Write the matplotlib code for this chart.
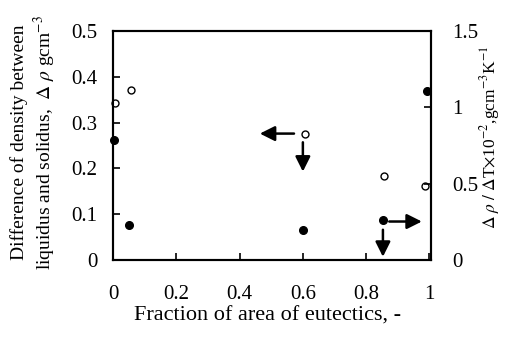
import matplotlib
matplotlib.use('Agg')
import matplotlib.pyplot as plt

plt.rcParams['font.family'] = ['Liberation Serif', 'DejaVu Serif']
plt.rcParams['mathtext.fontset'] = 'stix'

# fraction of area of eutectics
frac_open = [0.005, 0.057, 0.607, 0.855, 0.986]
# difference of density, left axis (g/cm3)
drho = [0.343, 0.371, 0.275, 0.183, 0.161]

frac_filled = [0.003, 0.05, 0.60, 0.853, 0.993]
# drho/dT x 1e-2, right axis
drho_dt = [0.783, 0.226, 0.195, 0.259, 1.107]

left_ticks = [0, 0.1, 0.2, 0.3, 0.4, 0.5]
left_labels = ['0', '0.1', '0.2', '0.3', '0.4', '0.5']
right_ticks = [0, 0.5, 1, 1.5]
right_labels = ['0', '0.5', '1', '1.5']
x_ticks = [0, 0.2, 0.4, 0.6, 0.8, 1]
x_labels = ['0', '0.2', '0.4', '0.6', '0.8', '1']

fig = plt.figure(figsize=(5.05, 3.38), dpi=100)
ax = fig.add_axes([0.2238, 0.2308, 0.6297, 0.6775])
ax2 = ax.twinx()

ax.plot(frac_open, drho, 'o', mfc='white', mec='black', ms=5, mew=1.0, clip_on=False, zorder=5)
ax2.plot(frac_filled, drho_dt, 'o', mfc='black', mec='black', ms=5.5, clip_on=False, zorder=5)

ax.set_xlim(0, 1.005)
ax.set_ylim(0, 0.5)
ax2.set_ylim(0, 1.5)

ax.set_xticks(x_ticks)
ax.set_xticklabels(x_labels)
ax.set_yticks(left_ticks)
ax.set_yticklabels(left_labels)
ax2.set_yticks(right_ticks)
ax2.set_yticklabels(right_labels)

ax.tick_params(axis='x', direction='in', length=5, width=1.2, pad=18, labelsize=15)
ax.tick_params(axis='y', direction='in', length=5, width=1.2, pad=11, labelsize=15)
ax2.tick_params(axis='y', direction='in', length=5, width=1.2, pad=15, labelsize=15)

for a in (ax, ax2):
    for s in a.spines.values():
        s.set_linewidth(1.5)

ax.set_xlabel('Fraction of area of eutectics, -', fontsize=16)
ax.xaxis.set_label_coords(0.487, -0.205)
ax.set_ylabel('Difference of density between\nliquidus and solidus,  $\\mathit{\\Delta}\\ \\rho$ gcm$^{-3}$',
              fontsize=14, linespacing=1.2)
ax.yaxis.set_label_coords(-0.173, 0.515)
ax2.set_ylabel('$\\mathit{\\Delta}\\ \\rho\\ /\\ \\mathit{\\Delta}$T$\\times$10$^{-2}$,gcm$^{-3}$K$^{-1}$',
               fontsize=12.5)
ax2.yaxis.set_label_coords(1.148, 0.537)

# arrows pointing to the axis each series belongs to
arw = dict(arrowstyle='-|>,head_length=0.9,head_width=0.45', color='black', lw=1.8, shrinkA=0, shrinkB=0)
ax.annotate('', xy=(0.464, 0.276), xytext=(0.572, 0.276), arrowprops=arw)
ax.annotate('', xy=(0.600, 0.193), xytext=(0.600, 0.257), arrowprops=arw)
ax.annotate('', xy=(0.976, 0.084), xytext=(0.873, 0.084), arrowprops=arw)
ax.annotate('', xy=(0.853, 0.007), xytext=(0.853, 0.066), arrowprops=arw)

fig.savefig('out.png', dpi=100)
